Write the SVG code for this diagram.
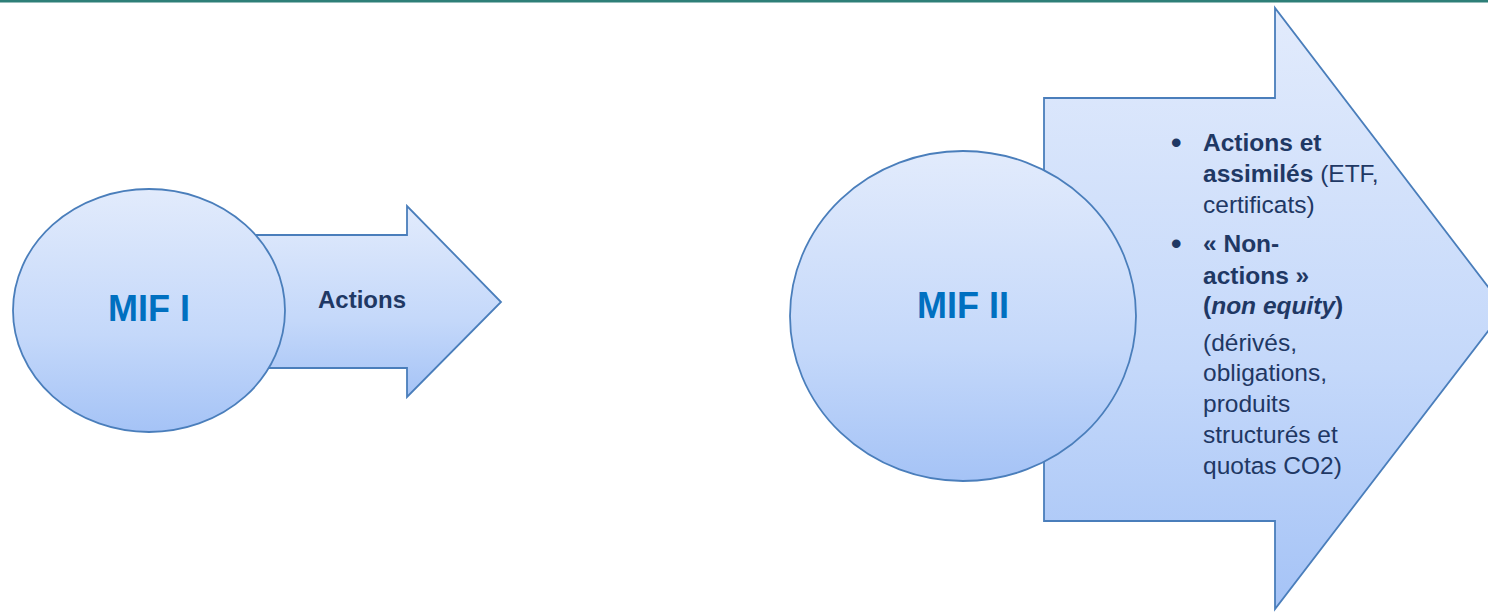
<svg xmlns="http://www.w3.org/2000/svg" width="1488" height="612" viewBox="0 0 1488 612">
  <style>
    .shape { stroke: #4A7EBB; stroke-width: 1.8; stroke-linejoin: miter; }
    .title { font-family: "Liberation Sans", Arial, sans-serif; font-weight: bold; font-size: 36px; fill: #0070C0; text-anchor: middle; }
    .body { font-family: "Liberation Sans", Arial, sans-serif; font-size: 24.5px; fill: #1F3864; }
    .label { font-size: 24px; }
    .bullet { font-size: 30px; font-weight: bold; }
    .b { font-weight: bold; }
    .bi { font-weight: bold; font-style: italic; }
  </style>
  <defs>
    <linearGradient id="fillBlue" x1="0" y1="0" x2="0" y2="1">
      <stop offset="0" stop-color="#E2EBFC"/>
      <stop offset="0.6" stop-color="#C4D8FA"/>
      <stop offset="1" stop-color="#A5C3F6"/>
    </linearGradient>
  </defs>

  <rect width="1488" height="612" fill="#FFFFFF"/>
  <!-- top rule -->
  <rect x="0" y="0" width="1488" height="2.5" fill="#2E7F78"/>

  <!-- small arrow behind MIF I -->
  <g id="arrow-mif1">
    <polygon class="shape" fill="url(#fillBlue)" points="250,235 407,235 407,206 501,302 407,397 407,368 250,368"/>
    <text class="body label b" x="318" y="308">Actions</text>
  </g>

  <g id="node-mif1">
    <ellipse class="shape" fill="url(#fillBlue)" cx="149" cy="310.5" rx="136" ry="121.5"/>
    <text class="title" x="149" y="321">MIF I</text>
  </g>

  <!-- large arrow behind MIF II -->
  <g id="arrow-mif2">
    <polygon class="shape" fill="url(#fillBlue)" points="1044,98 1275,98 1275,8 1505,309 1275,609 1275,521 1044,521"/>
    <g class="body">
      <text x="1171" y="153" class="bullet">•</text>
      <text x="1203" y="151" class="b">Actions et</text>
      <text x="1203" y="182"><tspan class="b">assimilés</tspan> (ETF,</text>
      <text x="1203" y="213">certificats)</text>
      <text x="1171" y="254" class="bullet">•</text>
      <text x="1203" y="252" class="b">« Non-</text>
      <text x="1203" y="284" class="b">actions »</text>
      <text x="1203" y="314"><tspan class="b">(</tspan><tspan class="bi">non equity</tspan><tspan class="b">)</tspan></text>
      <text x="1203" y="351">(dérivés,</text>
      <text x="1203" y="381">obligations,</text>
      <text x="1203" y="412">produits</text>
      <text x="1203" y="443">structurés et</text>
      <text x="1203" y="474">quotas CO2)</text>
    </g>
  </g>

  <g id="node-mif2">
    <ellipse class="shape" fill="url(#fillBlue)" cx="963" cy="316" rx="173" ry="165"/>
    <text class="title" x="963" y="318">MIF II</text>
  </g>
</svg>
